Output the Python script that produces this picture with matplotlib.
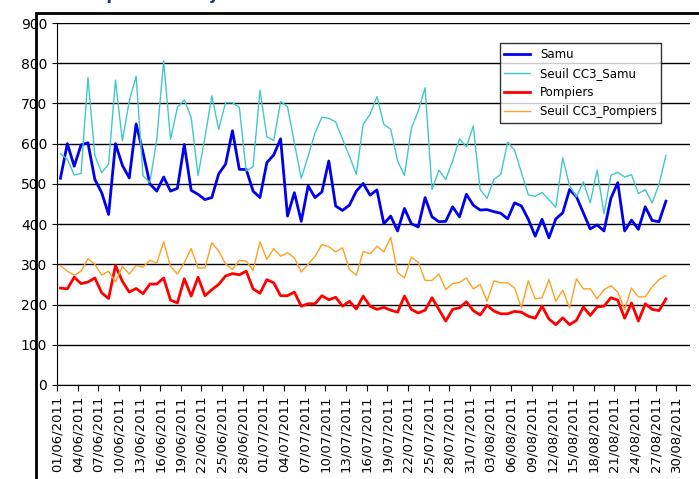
import matplotlib.pyplot as plt
from matplotlib.patches import Rectangle
import datetime as dt

# daily values from 01/06/2011 to 28/08/2011
samu = [514,600,544,597,602,511,478,424,600,546,515,649,578,500,482,517,482,489,598,484,
        474,461,466,525,549,632,536,536,482,466,553,572,612,420,478,407,495,466,480,557,
        445,434,447,482,501,472,
        485,401,420,383,439,401,393,466,418,406,407,443,418,474,447,435,436,431,427,413,
        453,445,412,370,412,366,413,428,486,468,428,388,398,383,464,503,383,410,387,443,
        409,406,457]
seuil_samu = [575,561,522,526,764,571,528,549,758,607,706,768,520,503,611,806,611,690,709,665,
              521,615,719,636,702,702,690,532,543,733,617,608,705,692,602,514,569,627,666,663,
              654,611,569,524,648,673,
              717,648,636,557,521,638,681,739,486,534,511,557,612,592,644,486,464,511,524,604,
              584,528,473,469,479,460,442,565,495,468,505,453,534,426,521,529,517,523,476,486,
              453,499,571]
pompiers = [241,239,268,252,256,266,229,215,297,258,231,240,227,251,251,266,211,204,264,221,
            268,222,237,250,271,277,274,283,239,228,262,254,222,222,231,196,202,202,222,212,
            218,196,208,189,221,196,
            188,193,186,181,221,188,179,186,217,188,159,188,192,207,185,174,198,184,177,177,
            183,181,171,166,196,164,150,167,150,161,194,173,194,196,217,211,166,204,159,202,
            188,185,214]
seuil_pompiers = [297,283,273,283,314,300,273,283,256,295,276,297,293,310,303,356,295,276,304,339,
                  291,291,354,333,301,287,310,308,285,356,312,339,320,329,316,281,300,320,349,344,
                  331,341,287,273,332,326,
                  345,331,367,280,266,318,305,260,260,276,237,252,255,266,239,250,208,259,254,254,
                  241,192,259,214,217,262,208,236,192,264,239,239,214,237,247,231,188,241,219,219,
                  244,262,272]

start = dt.date(2011, 6, 1)
tick_pos = list(range(0, 92, 3))
tick_labels = [(start + dt.timedelta(days=i)).strftime("%d/%m/%Y") for i in tick_pos]

fig = plt.figure(figsize=(6.99, 4.79), dpi=100)
ax = fig.add_axes([57/699, 1-385/479, 633/699, 362/479])

x = range(len(samu))
ax.plot(x, samu, color="#0000ee", lw=2, label="Samu")
ax.plot(x, seuil_samu, color="#40c8c8", lw=1, label="Seuil CC3_Samu")
ax.plot(x, pompiers, color="#ff0000", lw=2, label="Pompiers")
ax.plot(x, seuil_pompiers, color="#ffa020", lw=1, label="Seuil CC3_Pompiers")

ax.set_xlim(-0.5, 91.5)
ax.set_ylim(0, 900)
ax.set_yticks(range(0, 901, 100))
ax.yaxis.grid(True, color="black", lw=1)
ax.set_axisbelow(True)
ax.set_xticks([p - 0.5 for p in tick_pos])
ax.set_xticklabels(tick_labels, rotation=90, fontsize=9.5)
ax.tick_params(axis="y", labelsize=10)
ax.tick_params(axis="x", length=4)
for s in ["top", "right"]:
    ax.spines[s].set_visible(False)

leg = ax.legend(loc="upper left", bbox_to_anchor=(0.69, 0.96), fontsize=8.5,
                frameon=True, fancybox=False, edgecolor="black", handlelength=2.2)
leg.get_frame().set_linewidth(1)

fig.patches.append(Rectangle((36/699, -0.1), 2, 1.1 - 13/479, transform=fig.transFigure,
                             fill=False, ec="black", lw=2))
fig.text(-0.005, 1.0 + 6/479, "Victimes depuis le 1er juin 2011", color="#1f3a70",
         fontsize=12, fontweight="bold", va="center")

fig.savefig("out.png", dpi=100)
